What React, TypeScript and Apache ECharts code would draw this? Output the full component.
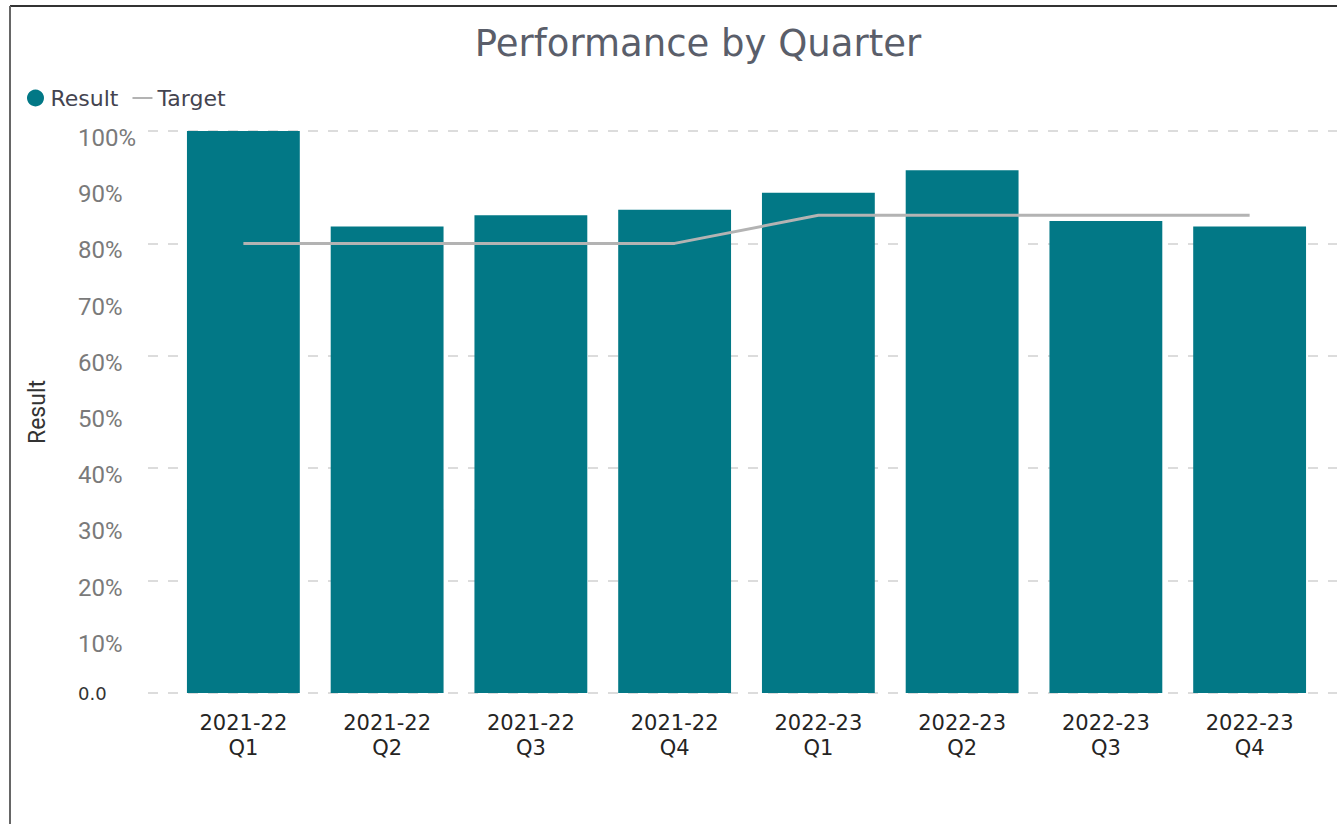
import React, { useEffect, useRef } from 'react';
import * as echarts from 'echarts';

const categories = [
  '2021-22\nQ1',
  '2021-22\nQ2',
  '2021-22\nQ3',
  '2021-22\nQ4',
  '2022-23\nQ1',
  '2022-23\nQ2',
  '2022-23\nQ3',
  '2022-23\nQ4',
];
const resultValues = [100, 83, 85, 86, 89, 93, 84, 83];
const targetValues = [80, 80, 80, 80, 85, 85, 85, 85];

export default function App() {
  const ref = useRef<HTMLDivElement>(null);
  useEffect(() => {
    const chart = echarts.init(ref.current!, null, { renderer: 'svg' });
    chart.setOption({
      animation: false,
      backgroundColor: '#ffffff',
      title: {
        text: 'Performance by Quarter',
        left: 693,
        top: 20,
        textAlign: 'center',
        textStyle: { fontFamily: 'DejaVu Sans', fontSize: 37, fontWeight: 'normal', color: '#5a5e6a' },
      },
      legend: {
        left: 22,
        top: 82,
        itemWidth: 20,
        itemHeight: 17,
        itemGap: 13,
        textStyle: { fontFamily: 'DejaVu Sans', fontSize: 22, color: '#444450' },
        data: [
          { name: 'Result', icon: 'circle' },
          { name: 'Target', itemStyle: { opacity: 0 }, lineStyle: { width: 2 } },
        ],
      },
      grid: [
        { left: 148, right: 0, top: 131, bottom: 131 },
        { left: 171.5, right: 15.5, top: 131, bottom: 131 },
      ],
      xAxis: [
        { type: 'category', gridIndex: 0, data: categories, show: false },
        {
          type: 'category',
          gridIndex: 1,
          data: categories,
          axisLine: { show: false },
          axisTick: { show: false },
          axisLabel: {
            interval: 0,
            margin: 17,
            fontFamily: 'DejaVu Sans',
            fontSize: 21,
            lineHeight: 25,
            color: '#252423',
          },
        },
      ],
      yAxis: [
        {
          type: 'value',
          gridIndex: 0,
          min: 0,
          max: 100,
          interval: 10,
          position: 'left',
          splitLine: { show: false },
          axisLine: { show: false },
          axisTick: { show: false },
          name: 'Result',
          nameLocation: 'middle',
          nameGap: 99,
          nameTextStyle: { fontFamily: 'Roboto', fontSize: 23, color: '#333333' },
          axisLabel: {
            align: 'left',
            margin: 70,
            formatter: (v: number) => (v === 0 ? '{z|0.0}' : `{p|${v}%}`),
            rich: {
              p: { fontFamily: 'Roboto', fontSize: 24, color: '#7a7a7a', padding: [14, 0, 0, 0] },
              z: { fontFamily: 'DejaVu Sans', fontSize: 18, color: '#333333' },
            },
          },
        },
        {
          type: 'value',
          gridIndex: 0,
          min: 0,
          max: 100,
          interval: 20,
          position: 'left',
          axisLine: { show: false },
          axisTick: { show: false },
          axisLabel: { show: false },
          splitLine: { show: true, lineStyle: { color: '#dcdcdc', width: 2, type: [10, 10] } },
        },
        { type: 'value', gridIndex: 1, min: 0, max: 100, show: false },
      ],
      series: [
        {
          name: 'Result',
          type: 'bar',
          xAxisIndex: 1,
          yAxisIndex: 2,
          data: resultValues,
          barCategoryGap: '21.5%',
          itemStyle: { color: '#027886' },
        },
        {
          name: 'Target',
          type: 'line',
          xAxisIndex: 1,
          yAxisIndex: 2,
          data: targetValues,
          symbol: 'none',
          lineStyle: { color: '#b3b3b3', width: 3 },
          itemStyle: { color: '#b3b3b3' },
        },
      ],
      graphic: [
        { type: 'line', shape: { x1: 10, y1: 6, x2: 1337, y2: 6 }, style: { stroke: '#333333', lineWidth: 2 } },
        { type: 'line', shape: { x1: 10, y1: 6, x2: 10, y2: 824 }, style: { stroke: '#666666', lineWidth: 2 } },
      ],
    });
    return () => chart.dispose();
  }, []);
  return <div ref={ref} style={{ position: 'absolute', left: 0, top: 0, width: 1337, height: 824 }} />;
}
